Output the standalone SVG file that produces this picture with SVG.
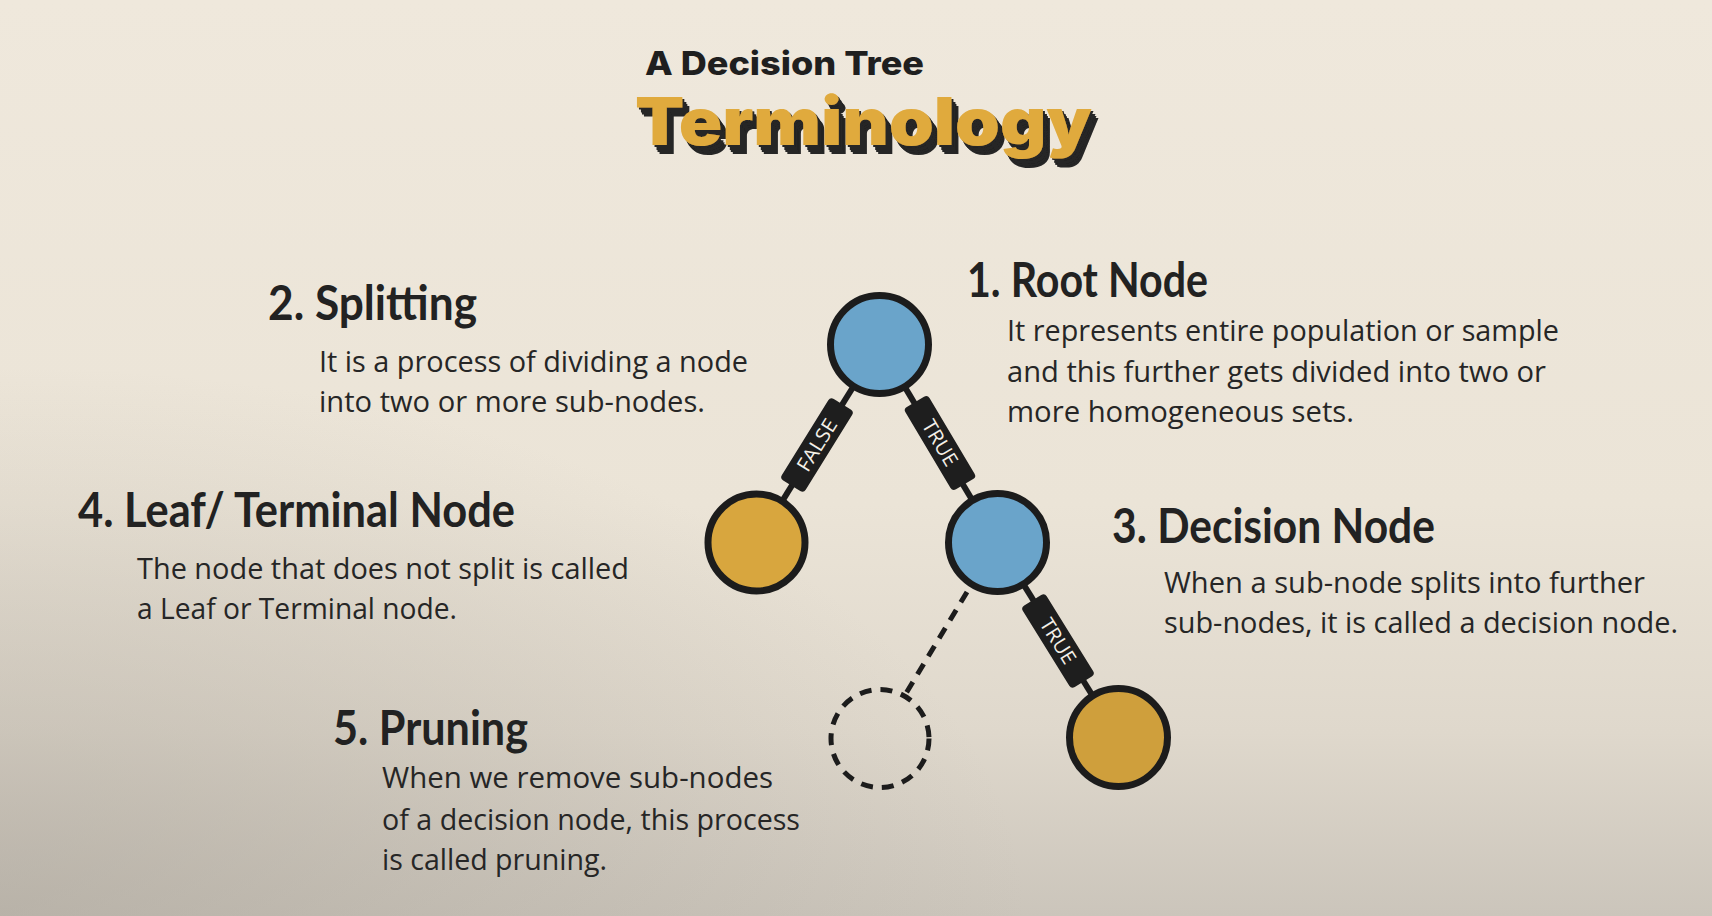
<svg xmlns="http://www.w3.org/2000/svg" width="1712" height="916" viewBox="0 0 1712 916">
  <defs>
    <linearGradient id="paper" x1="0" y1="0" x2="0" y2="1">
      <stop offset="0" stop-color="#efe8dc"/>
      <stop offset="0.55" stop-color="#ebe4d7"/>
      <stop offset="0.8" stop-color="#dfd8cc"/>
      <stop offset="1" stop-color="#cbc5bb"/>
    </linearGradient>
    <radialGradient id="corner" cx="0" cy="1" r="0.6" gradientUnits="objectBoundingBox">
      <stop offset="0" stop-color="#a9a399" stop-opacity="0.55"/>
      <stop offset="1" stop-color="#a9a399" stop-opacity="0"/>
    </radialGradient>
    <!-- stacked dark extrusion under the big title word -->
    <filter id="extrude" x="-5%" y="-10%" width="115%" height="140%">
      <feFlood flood-color="#262626" result="ink0"/>
      <feComposite in="ink0" in2="SourceAlpha" operator="in" result="ink"/>
      <feOffset in="ink" dx="1.8" dy="2.3" result="o1"/>
      <feOffset in="ink" dx="3.6" dy="4.6" result="o2"/>
      <feOffset in="ink" dx="5.4" dy="6.9" result="o3"/>
      <feOffset in="ink" dx="7.2" dy="9.2" result="o4"/>
      <feMerge>
        <feMergeNode in="o4"/>
        <feMergeNode in="o3"/>
        <feMergeNode in="o2"/>
        <feMergeNode in="o1"/>
        <feMergeNode in="SourceGraphic"/>
      </feMerge>
    </filter>
    <style>
      .title { font-family: Inter, "Liberation Sans", sans-serif; font-weight: 800; fill: #1f1f1f; }
      .big { font-family: Inter, "Liberation Sans", sans-serif; font-weight: 900; fill: #e0aa3e; }
      .head { font-family: Lato, "Liberation Sans", sans-serif; font-weight: 700; font-size: 47px; fill: #222; }
      .body { font-family: "Open Sans", "Liberation Sans", sans-serif; font-weight: 400; font-size: 30px; fill: #262626; }
      .edge { stroke: #1c1c1c; stroke-width: 6; fill: none; }
      .pruned { stroke: #1c1c1c; stroke-width: 5; fill: none; stroke-dasharray: 12 9; }
      .node { stroke: #1c1c1c; stroke-width: 7; }
      .blue { fill: #6aa4ca; }
      .gold { fill: #d8a63e; }
      .tag { fill: #1e1e1e; }
      .tagtxt { font-family: "Open Sans", "Liberation Sans", sans-serif; font-size: 20px; fill: #f4f0e8; }
    </style>
  </defs>

  <!-- paper background -->
  <rect width="1712" height="916" fill="url(#paper)"/>
  <rect width="1712" height="916" fill="url(#corner)"/>

  <!-- heading -->
  <g id="title">
    <text class="title" x="645" y="75" font-size="33" textLength="279" lengthAdjust="spacingAndGlyphs">A Decision Tree</text>
    <text class="big" x="635" y="145" font-size="66" filter="url(#extrude)" textLength="457" lengthAdjust="spacingAndGlyphs">Terminology</text>
  </g>

  <!-- connectors -->
  <g id="connectors">
    <line class="edge" x1="879.5" y1="344.5" x2="756.5" y2="542.5"/>
    <line class="edge" x1="879.5" y1="344.5" x2="997.5" y2="542.5"/>
    <line class="edge" x1="997.5" y1="542.5" x2="1118.5" y2="737.5"/>
    <line class="pruned" x1="967" y1="592" x2="905" y2="695"/>

    <g transform="translate(817 445) rotate(-58.2)">
      <rect class="tag" x="-48" y="-14" width="96" height="28" rx="4"/>
      <text class="tagtxt" x="0" y="7" text-anchor="middle" textLength="58" lengthAdjust="spacingAndGlyphs">FALSE</text>
    </g>
    <g transform="translate(940 443) rotate(59.2)">
      <rect class="tag" x="-48" y="-14" width="96" height="28" rx="4"/>
      <text class="tagtxt" x="0" y="7" text-anchor="middle" textLength="50" lengthAdjust="spacingAndGlyphs">TRUE</text>
    </g>
    <g transform="translate(1058 641) rotate(58.2)">
      <rect class="tag" x="-48" y="-14" width="96" height="28" rx="4"/>
      <text class="tagtxt" x="0" y="7" text-anchor="middle" textLength="50" lengthAdjust="spacingAndGlyphs">TRUE</text>
    </g>
  </g>

  <!-- tree nodes -->
  <g id="root-node">
    <circle class="node blue" cx="879.5" cy="344.5" r="49"/>
  </g>
  <g id="leaf-left">
    <circle class="node gold" cx="756.5" cy="542.5" r="48.5"/>
  </g>
  <g id="decision-node">
    <circle class="node blue" cx="997.5" cy="542.5" r="49"/>
  </g>
  <g id="leaf-right">
    <circle class="node" cx="1118.5" cy="737.5" r="49" fill="#cf9f3c"/>
  </g>
  <g id="pruned-node">
    <circle class="pruned" cx="880" cy="738.5" r="49"/>
  </g>

  <!-- term descriptions -->
  <g id="term-root">
    <text class="head" x="967" y="297" textLength="241" lengthAdjust="spacingAndGlyphs">1. Root Node</text>
    <text class="body" x="1007" y="341" textLength="552" lengthAdjust="spacingAndGlyphs">It represents entire population or sample</text>
    <text class="body" x="1007" y="382" textLength="539" lengthAdjust="spacingAndGlyphs">and this further gets divided into two or</text>
    <text class="body" x="1007" y="422" textLength="347" lengthAdjust="spacingAndGlyphs">more homogeneous sets.</text>
  </g>
  <g id="term-splitting">
    <text class="head" x="268" y="320" textLength="209" lengthAdjust="spacingAndGlyphs">2. Splitting</text>
    <text class="body" x="319" y="372" textLength="429" lengthAdjust="spacingAndGlyphs">It is a process of dividing a node</text>
    <text class="body" x="319" y="412" textLength="386" lengthAdjust="spacingAndGlyphs">into two or more sub-nodes.</text>
  </g>
  <g id="term-decision">
    <text class="head" x="1112" y="543" textLength="323" lengthAdjust="spacingAndGlyphs">3. Decision Node</text>
    <text class="body" x="1164" y="593" textLength="481" lengthAdjust="spacingAndGlyphs">When a sub-node splits into further</text>
    <text class="body" x="1164" y="633" textLength="514" lengthAdjust="spacingAndGlyphs">sub-nodes, it is called a decision node.</text>
  </g>
  <g id="term-leaf">
    <text class="head" x="78" y="527" textLength="437" lengthAdjust="spacingAndGlyphs">4. Leaf/ Terminal Node</text>
    <text class="body" x="137" y="579" textLength="492" lengthAdjust="spacingAndGlyphs">The node that does not split is called</text>
    <text class="body" x="137" y="619" textLength="320" lengthAdjust="spacingAndGlyphs">a Leaf or Terminal node.</text>
  </g>
  <g id="term-pruning">
    <text class="head" x="333" y="745" textLength="195" lengthAdjust="spacingAndGlyphs">5. Pruning</text>
    <text class="body" x="382" y="788" textLength="391" lengthAdjust="spacingAndGlyphs">When we remove sub-nodes</text>
    <text class="body" x="382" y="830" textLength="418" lengthAdjust="spacingAndGlyphs">of a decision node, this process</text>
    <text class="body" x="382" y="870" textLength="225" lengthAdjust="spacingAndGlyphs">is called pruning.</text>
  </g>
</svg>
